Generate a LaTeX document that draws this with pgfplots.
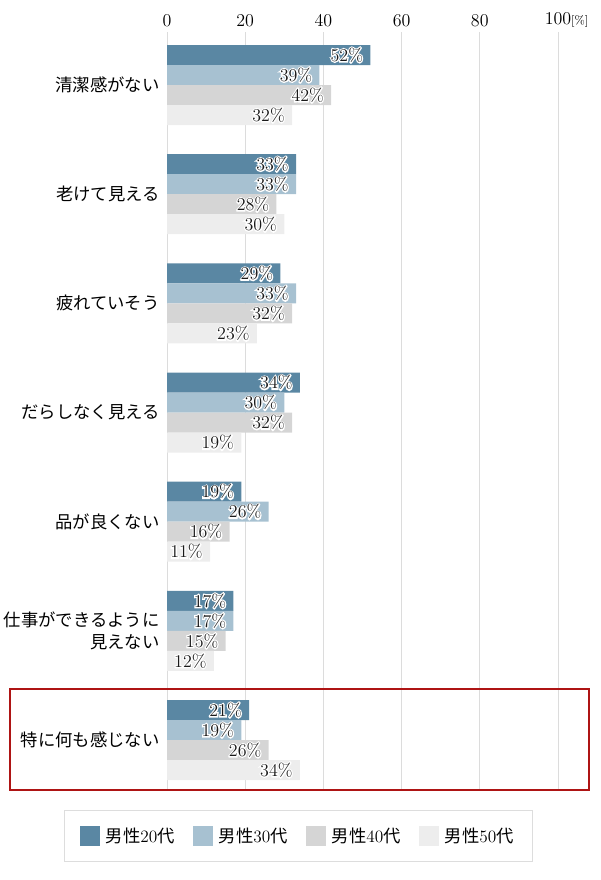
\documentclass[border=0pt]{standalone}
\usepackage{pgfplots}
\pgfplotsset{compat=1.18}
\usepackage{fontspec}
\newfontfamily\jp{Noto Sans CJK JP}
\newfontfamily\lmo{Latin Modern Roman}[FakeBold=14]
\newcommand\outl[1]{\leavevmode\rlap{\lmo\color{white}#1}#1}
\definecolor{cA}{HTML}{5A87A3}
\definecolor{cB}{HTML}{A7C1D1}
\definecolor{cC}{HTML}{D5D5D5}
\definecolor{cD}{HTML}{EDEDED}
\definecolor{gridc}{HTML}{DCDCDC}
\definecolor{legc}{HTML}{DDDDDD}
\definecolor{boxred}{HTML}{AE1414}
\begin{document}
\begin{tikzpicture}
\path[use as bounding box] (0,0) rectangle (450pt,-660pt);
\begin{axis}[
  /pgf/number format/assume math mode=true,
  at={(125.25pt,-24pt)}, anchor=north west,
  scale only axis, width=293.25pt, height=568.5pt,
  xmin=0, xmax=100, ymin=-0.4855, ymax=6.458, y dir=reverse,
  xbar, bar width=0.1832,
  axis line style={draw=none},
  xtick={0,20,40,60,80,100},
  xticklabels={0,20,40,60,80,100\rlap{\small[\%]}},
  xticklabel pos=upper,
  major tick length=0pt,
  xmajorgrids, grid style={color=gridc, line width=0.7pt},
  ytick={0,1,2,3,4,5,6},
  yticklabels={清潔感がない,老けて見える,疲れていそう,だらしなく見える,品が良くない,{仕事ができるように\\見えない},特に何も感じない},
  yticklabel style={font=\jp\fontsize{13}{17}\selectfont, align=right, xshift=-2pt},
  xticklabel style={font=\fontsize{13.5}{15}\selectfont},
  point meta=x,
  nodes near coords={\outl{\pgfmathprintnumber{\pgfplotspointmeta}\%}},
  every node near coord/.append style={anchor=east, xshift=-2pt, font=\fontsize{13.5}{15}\selectfont, text=black!90},
  legend columns=4,
  legend style={at={(0.336,-0.0607)}, anchor=center, draw=legc, line width=0.75pt,
    inner xsep=12pt, inner ysep=11pt, font=\fontsize{13}{15}\selectfont,
    /tikz/every even column/.append style={column sep=12pt},
    /tikz/every odd column/.append style={column sep=2pt}},
  legend image code/.code={\fill[#1, draw=none] (0pt,-7.5pt) rectangle (15pt,7.5pt);},
]
\addplot[fill=cA, draw=none, bar shift=-0.2748] coordinates {(52,0) (33,1) (29,2) (34,3) (19,4) (17,5) (21,6)};
\addplot[fill=cB, draw=none, bar shift=-0.0916] coordinates {(39,0) (33,1) (33,2) (30,3) (26,4) (17,5) (19,6)};
\addplot[fill=cC, draw=none, bar shift=0.0916] coordinates {(42,0) (28,1) (32,2) (32,3) (16,4) (15,5) (26,6)};
\addplot[fill=cD, draw=none, bar shift=0.2748] coordinates {(32,0) (30,1) (23,2) (19,3) (11,4) (12,5) (34,6)};
\legend{{\jp 男性}20{\jp 代},{\jp 男性}30{\jp 代},{\jp 男性}40{\jp 代},{\jp 男性}50{\jp 代}}
\end{axis}
\draw[boxred, line width=1.5pt] (7.5pt,-516.75pt) rectangle (441.75pt,-592.5pt);
\end{tikzpicture}
\end{document}
